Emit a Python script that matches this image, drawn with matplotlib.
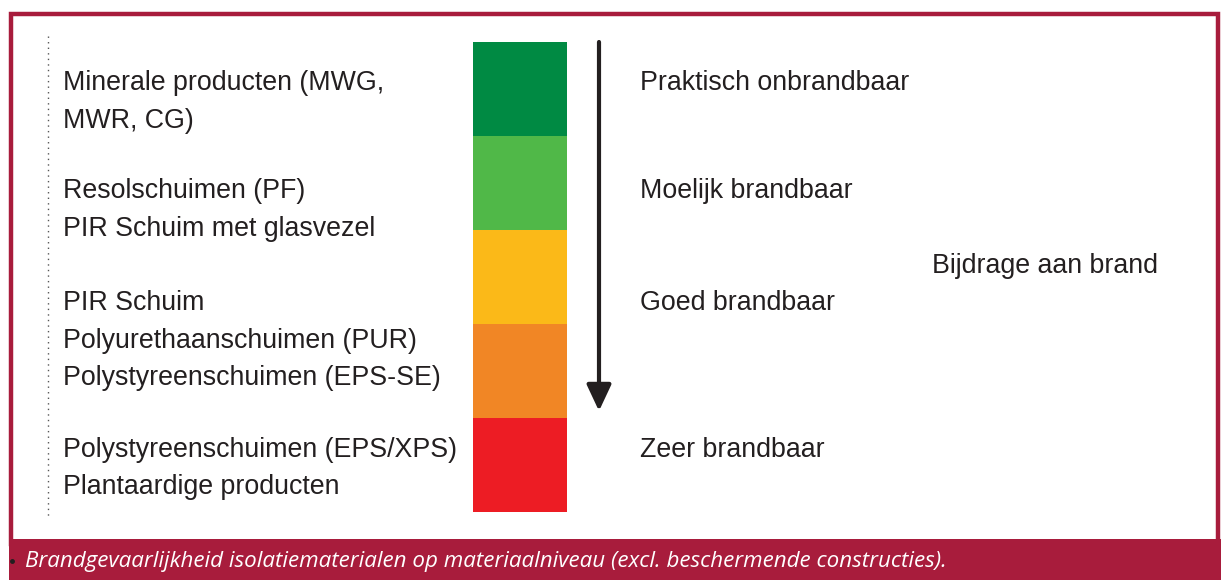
import matplotlib.pyplot as plt
from matplotlib.patches import Rectangle

# materials per group (left column)
material_groups = [
    ["Minerale producten (MWG,", "MWR, CG)"],
    ["Resolschuimen (PF)", "PIR Schuim met glasvezel"],
    ["PIR Schuim", "Polyurethaanschuimen (PUR)", "Polystyreenschuimen (EPS-SE)"],
    ["Polystyreenschuimen (EPS/XPS)", "Plantaardige producten"],
]
fire_classes = ["Praktisch onbrandbaar", "Moelijk brandbaar", "Goed brandbaar", "Zeer brandbaar"]
scale_colors = ["#008a43", "#50b848", "#fbb918", "#f18625", "#ed1c24"]
axis_label = "Bijdrage aan brand"
caption = "Brandgevaarlijkheid isolatiematerialen op materiaalniveau (excl. beschermende constructies)."

# layout (pixels)
group_y = [83, 191, 303, 450]
line_step = 37.5
bar_x, bar_w, bar_top, seg_h = 473, 94, 42, 94
crimson = "#a81c3c"
ink = "#231f20"
fs = 19.3

plt.rcParams['font.family'] = ['Liberation Sans', 'DejaVu Sans']

fig = plt.figure(figsize=(12.21, 5.80), dpi=100)
ax = fig.add_axes([0, 0, 1, 1])
ax.set_xlim(0, 1221)
ax.set_ylim(580, 0)
ax.axis('off')

# frame + caption band
ax.add_patch(Rectangle((11, 13.5), 1206.5, 530, fill=False, edgecolor=crimson, lw=3.2))
ax.add_patch(Rectangle((9, 539), 1212, 41, facecolor=crimson, edgecolor='none'))
ax.text(25, 562, caption, color='white', fontsize=16.1, style='italic', va='center', ha='left',
        family=['Open Sans', 'DejaVu Sans'])
ax.plot([12], [561], marker='o', ms=2.5, color=ink)

# dotted guide
ax.plot([48, 48], [36, 517], ls=(0, (1, 3)), color='#555555', lw=1)

# color scale
for i, c in enumerate(scale_colors):
    ax.add_patch(Rectangle((bar_x, bar_top + i * seg_h), bar_w, seg_h, facecolor=c, edgecolor='none'))

# arrow
ax.annotate('', xy=(599, 411), xytext=(599, bar_top),
            arrowprops=dict(arrowstyle='-|>,head_width=0.75,head_length=1.6', lw=3.0, color=ink,
                            shrinkA=0, shrinkB=0))

for y0, lines in zip(group_y, material_groups):
    for j, s in enumerate(lines):
        ax.text(63, y0 + j * line_step, s, fontsize=fs, color=ink, va='center', ha='left')

for y0, s in zip(group_y, fire_classes):
    ax.text(640, y0, s, fontsize=fs, color=ink, va='center', ha='left')

ax.text(932, 266, axis_label, fontsize=fs, color=ink, va='center', ha='left')

fig.savefig('out.png', dpi=100)
